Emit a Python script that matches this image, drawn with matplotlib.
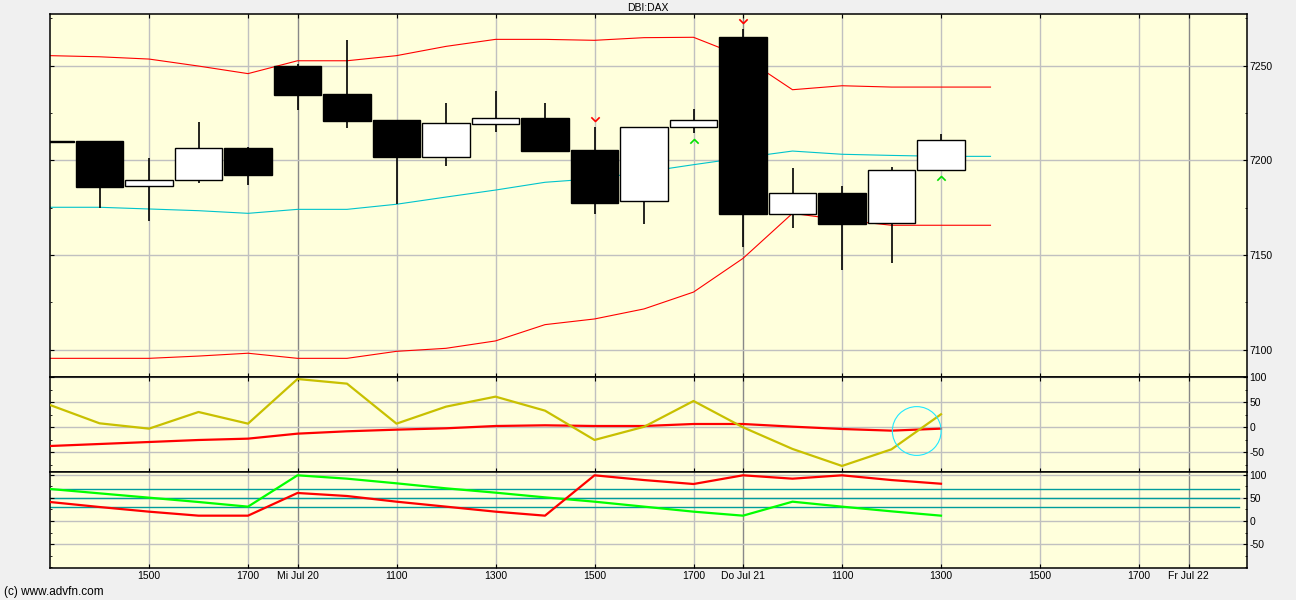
import matplotlib
matplotlib.use("Agg")
import matplotlib.pyplot as plt
from matplotlib.patches import Ellipse
from matplotlib.path import Path
from matplotlib.ticker import MultipleLocator, FixedLocator
import numpy as np

plt.rcParams['axes.unicode_minus'] = False

# ---------------- data ----------------
opens  = [7210.2, 7210.0, 7186.3, 7189.4, 7206.5, 7250.0, 7235.0, 7221.3, 7202.0, 7219.0,
          7222.2, 7205.4, 7178.3, 7217.4, 7265.0, 7171.8, 7182.6, 7166.7, 7194.7]
closes = [7209.8, 7186.0, 7189.4, 7206.3, 7192.4, 7234.6, 7221.0, 7201.9, 7219.5, 7222.2,
          7205.1, 7177.6, 7217.4, 7221.1, 7171.8, 7182.6, 7166.5, 7194.7, 7210.6]
highs  = [7210.2, 7210.0, 7201.0, 7220.2, 7206.9, 7251.0, 7263.7, 7221.3, 7230.3, 7236.6,
          7230.3, 7217.6, 7217.4, 7227.1, 7269.5, 7195.9, 7186.4, 7196.3, 7213.9]
lows   = [7209.8, 7175.0, 7168.1, 7188.2, 7187.0, 7226.6, 7217.0, 7176.8, 7197.2, 7215.1,
          7205.1, 7171.6, 7166.5, 7214.6, 7154.4, 7164.4, 7142.2, 7145.6, 7194.7]

bb_upper = [7255.3, 7254.7, 7253.5, 7249.8, 7245.8, 7252.6, 7252.6, 7255.3, 7260.2, 7263.9,
            7263.9, 7263.4, 7264.8, 7265.0, 7254.7, 7237.3, 7239.4, 7238.7, 7238.7, 7238.7]
bb_mid   = [7175.2, 7175.2, 7174.3, 7173.4, 7172.0, 7174.1, 7174.1, 7176.8, 7180.6, 7184.3,
            7188.4, 7190.3, 7193.8, 7197.7, 7201.4, 7204.9, 7203.2, 7202.6, 7202.1, 7202.1]
bb_lower = [7095.4, 7095.4, 7095.4, 7096.6, 7098.1, 7095.4, 7095.4, 7099.1, 7100.7, 7104.6,
            7113.2, 7116.2, 7121.5, 7130.4, 7148.2, 7172.0, 7168.5, 7165.7, 7165.7, 7165.7]

osc_yellow = [44.6, 8.0, -2.7, 30.6, 7.3, 96.6, 87.3, 7.3, 41.3, 61.3,
              33.3, -25.3, 1.0, 52.6, 0.0, -43.3, -77.3, -44.0, 26.0]
osc_red    = [-37.4, -33.4, -29.4, -25.4, -22.7, -12.7, -8.0, -4.7, -2.0, 2.6,
              4.0, 2.6, 2.6, 6.6, 6.6, 1.3, -3.4, -6.7, -2.7]

stoch_green = [69.6, 60.1, 50.7, 41.3, 31.2, 99.3, 92.0, 81.9, 71.0, 61.6,
               51.4, 42.0, 31.2, 20.3, 11.6, 42.0, 31.2, 21.0, 11.6]
stoch_red   = [41.3, 30.4, 20.3, 11.6, 11.6, 60.9, 54.3, 42.0, 31.2, 20.3,
               11.6, 99.3, 89.0, 80.4, 99.3, 92.0, 99.3, 89.0, 81.0]
stoch_levels = [70, 50, 30]

sell_signals = [11, 14]
buy_signals = [13, 18]

tick_pos = [2, 4, 5, 7, 9, 11, 13, 14, 16, 18, 20, 22, 23]
tick_labels = ['1500', '1700', 'Mi Jul 20', '1100', '1300', '1500', '1700',
               'Do Jul 21', '1100', '1300', '1500', '1700', 'Fr Jul 22']
day_pos = [5, 14, 23]

title = "DBI:DAX"
copyright_text = "(c) www.advfn.com"

# ---------------- style ----------------
W, H = 1296, 600
BG = '#f0f0f0'
PANEL = '#ffffdc'
GRID = '#c0c0c0'
DAYGRID = '#888888'
FONT = 'Liberation Sans'
FS = 7.5

fig = plt.figure(figsize=(W / 100, H / 100), dpi=100, facecolor=BG)

def fx(px):
    return px / W

def fy(py):
    return 1 - py / H

left_px, right_px = 50, 1246.5
panels_px = [(14, 376.7), (376.7, 472), (472, 568.3)]
axes = []
for top, bot in panels_px:
    ax = fig.add_axes([fx(left_px), fy(bot), fx(right_px - left_px), (bot - top) / H])
    ax.set_facecolor(PANEL)
    axes.append(ax)

ax1, ax2, ax3 = axes
xmax = (right_px - left_px) / 49.5
for ax in axes:
    ax.set_xlim(0, xmax)
    for s in ax.spines.values():
        s.set_color('black')
        s.set_linewidth(1.1)
    ax.xaxis.set_major_locator(FixedLocator(tick_pos))
    for p in tick_pos:
        c = DAYGRID if p in day_pos else GRID
        ax.axvline(p, color=c, lw=1.0, zorder=0.5)
    ax.tick_params(axis='y', which='both', left=True, right=True, labelleft=False,
                   labelright=True, direction='in', labelsize=FS, pad=2)
    ax.tick_params(axis='y', which='major', length=3)
    ax.tick_params(axis='y', which='minor', length=1.5)
    ax.tick_params(axis='x', which='major', direction='in', length=3, top=True,
                   bottom=True, labelbottom=False, labelsize=FS, pad=2)

# ---- main panel ----
ax1.set_ylim(7085.7, 7277.3)
ax1.yaxis.set_major_locator(FixedLocator([7100, 7150, 7200, 7250]))
ax1.yaxis.set_minor_locator(MultipleLocator(25))
for v in [7100, 7150, 7200, 7250]:
    ax1.axhline(v, color=GRID, lw=1.0, zorder=0.5)

xb = np.arange(len(bb_upper))
ax1.plot(xb, bb_upper, color='#ff0000', lw=0.8, zorder=2)
ax1.plot(xb, bb_mid, color='#00c4cc', lw=0.8, zorder=2)
ax1.plot(xb, bb_lower, color='#ff0000', lw=0.8, zorder=2)

xc = np.arange(len(opens))
ax1.vlines(xc, lows, highs, color='black', lw=1.2, zorder=3)
o = np.array(opens)
c = np.array(closes)
colors = ['white' if cc > oo else 'black' for oo, cc in zip(o, c)]
ax1.bar(xc, c - o, bottom=o, width=0.95, color=colors, edgecolor='black',
        linewidth=1.0, zorder=4)

chev_down = Path([(-1, 1), (0, 0), (1, 1)], [Path.MOVETO, Path.LINETO, Path.LINETO])
chev_up = Path([(-1, -1), (0, 0), (1, -1)], [Path.MOVETO, Path.LINETO, Path.LINETO])
ax1.plot(sell_signals, [highs[i] + 3.2 for i in sell_signals], ls='none',
         marker=chev_down, ms=6, mec='#ff0000', mfc='none', mew=1.2, zorder=5)
ax1.plot(buy_signals, [lows[i] - 3.2 for i in buy_signals], ls='none',
         marker=chev_up, ms=6, mec='#00e000', mfc='none', mew=1.2, zorder=5)

# ---- oscillator panel ----
ax2.set_ylim(-89.4, 101.2)
ax2.yaxis.set_major_locator(FixedLocator([-50, 0, 50, 100]))
ax2.yaxis.set_minor_locator(MultipleLocator(25))
for v in [-50, 0, 50, 100]:
    ax2.axhline(v, color=GRID, lw=1.0, zorder=0.5)
xo = np.arange(len(osc_yellow))
ax2.plot(xo, osc_red, color='#ff0000', lw=1.6, zorder=3)
ax2.plot(xo, osc_yellow, color='#c8c000', lw=1.6, zorder=3)
ax2.add_patch(Ellipse((17.51, -7.4), width=48.8 / 49.5, height=97.6,
                      fill=False, ec='#20e8ff', lw=0.8, zorder=4))

# ---- stochastic panel ----
ax3.set_ylim(-102.8, 106.5)
ax3.yaxis.set_major_locator(FixedLocator([-50, 0, 50, 100]))
ax3.yaxis.set_minor_locator(MultipleLocator(25))
for v in [-50, 0, 50, 100]:
    ax3.axhline(v, color=GRID, lw=1.0, zorder=0.5)
for v in stoch_levels:
    ax3.axhline(v, xmin=0, xmax=(1239 - left_px) / (right_px - left_px),
                color='#009c9c', lw=1.0, zorder=1)
xs = np.arange(len(stoch_green))
ax3.plot(xs, stoch_green, color='#00ff00', lw=1.6, zorder=3)
ax3.plot(xs, stoch_red, color='#ff0000', lw=1.6, zorder=3)
ax3.tick_params(axis='x', labelbottom=True)
ax3.set_xticklabels(tick_labels, fontsize=FS, fontfamily=FONT)
ax3.tick_params(axis='x', top=False)

for ax in axes:
    for lab in ax.get_yticklabels():
        lab.set_fontfamily(FONT)

fig.text(fx(648), fy(8), title, ha='center', va='center', fontsize=FS, fontfamily=FONT)
fig.text(fx(4), fy(592), copyright_text, ha='left', va='center', fontsize=FS + 1,
         fontfamily=FONT)

fig.savefig('out.png', dpi=100, facecolor=BG)
